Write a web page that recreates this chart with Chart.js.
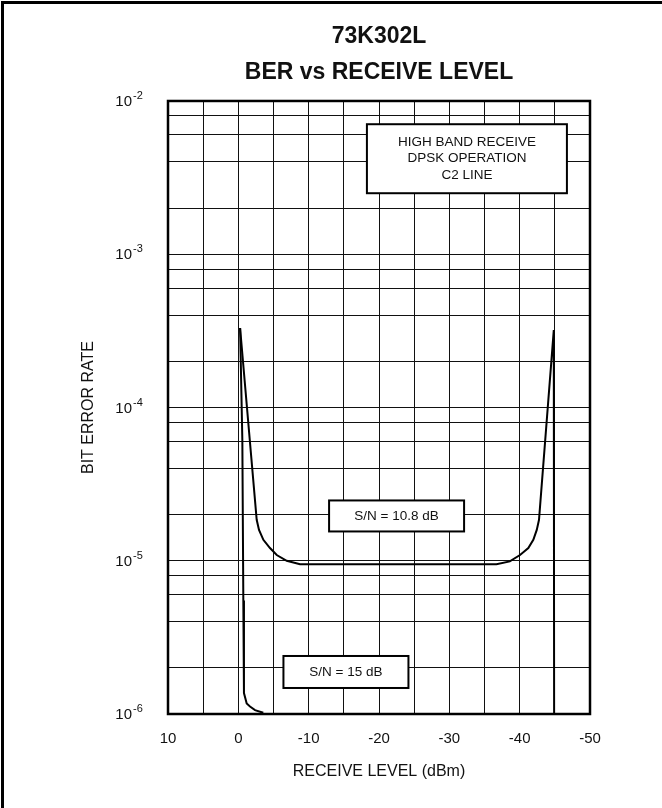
<!DOCTYPE html>
<html>
<head>
<meta charset="utf-8">
<script src="https://cdn.jsdelivr.net/npm/chart.js@4.4.1/dist/chart.umd.min.js"></script>
<style>
  html, body { margin: 0; padding: 0; background: #fff; }
  #wrap { position: relative; width: 662px; height: 808px; }
  #marco { position: absolute; left: 1px; top: 1px; right: -10px; bottom: -10px; border-left: 3px solid #000; border-top: 3px solid #000; pointer-events: none; }
</style>
</head>
<body>
<div id="wrap">
  <canvas id="grafico" width="662" height="808"></canvas>
  <div id="marco"></div>
</div>
<script>
// Curva S/N = 10.8 dB (nivel en dBm, BER)
const nivelSN108 = [-0.25, -2.61, -2.94, -3.56, -4.5, -5.46, -6.88, -8.77, -36.7, -38.6, -40.05, -41.23, -41.94, -42.43, -42.75, -44.85, -44.9];
const berSN108   = [3.3e-4, 1.85e-5, 1.59e-5, 1.37e-5, 1.21e-5, 1.09e-5, 1.0e-5, 9.5e-6, 9.5e-6, 9.9e-6, 1.09e-5, 1.21e-5, 1.37e-5, 1.59e-5, 1.85e-5, 3.2e-4, 1e-6];

// Curva S/N = 15 dB
const nivelSN15 = [-0.25, -0.57, -0.71, -0.8, -1.19, -1.66, -2.37, -3.55];
const berSN15   = [3.3e-4, 6.1e-5, 5.5e-6, 1.37e-6, 1.17e-6, 1.12e-6, 1.06e-6, 1.02e-6];

// Ejes
const marcasX = [10, 5, 0, -5, -10, -15, -20, -25, -30, -35, -40, -45, -50];
const etiquetasX = [10, 0, -10, -20, -30, -40, -50];
const marcasY = [1e-6, 2e-6, 4e-6, 6e-6, 8e-6, 1e-5, 2e-5, 4e-5, 6e-5, 8e-5, 1e-4, 2e-4, 4e-4, 6e-4, 8e-4, 1e-3, 2e-3, 4e-3, 6e-3, 8e-3, 1e-2];
const decadasY = [1e-2, 1e-3, 1e-4, 1e-5, 1e-6];
const exponentesY = ['-2', '-3', '-4', '-5', '-6'];

// Cuadros de texto (ancla en unidades de datos)
const notasTexto = [['HIGH BAND RECEIVE', 'DPSK OPERATION', 'C2 LINE'], ['S/N = 10.8 dB'], ['S/N = 15 dB']];
const notasNivel = [-32.5, -22.5, -15.3];
const notasBer = [4.2e-3, 1.96e-5, 1.88e-6];

const FUENTE = '"Liberation Sans", Arial, Helvetica, sans-serif';
const tamNotas = [[200, 69], [135, 31], [125, 32]];

const pares = (xs, ys) => xs.map((x, i) => ({ x: x, y: ys[i] }));

const pluginExtras = {
  id: 'extras',
  afterDraw(chart) {
    const { ctx, chartArea: a, scales: { x, y } } = chart;
    ctx.save();
    // borde grueso del área
    ctx.strokeStyle = '#000';
    ctx.lineWidth = 2.5;
    ctx.strokeRect(a.left, a.top, a.right - a.left, a.bottom - a.top);

    // etiquetas del eje Y con exponente
    ctx.fillStyle = '#111';
    decadasY.forEach((v, i) => {
      const py = y.getPixelForValue(v);
      ctx.font = '15px ' + FUENTE;
      ctx.textAlign = 'right';
      ctx.textBaseline = 'middle';
      ctx.fillText('10', 132, py + 1);
      ctx.font = '11px ' + FUENTE;
      ctx.textAlign = 'left';
      ctx.fillText(exponentesY[i], 133, py - 5);
    });

    // cuadros de texto
    notasTexto.forEach((lineas, i) => {
      const cx = x.getPixelForValue(notasNivel[i]);
      const cy = y.getPixelForValue(notasBer[i]);
      const [w, h] = tamNotas[i];
      ctx.fillStyle = '#fff';
      ctx.fillRect(cx - w / 2, cy - h / 2, w, h);
      ctx.lineWidth = 2;
      ctx.strokeStyle = '#000';
      ctx.strokeRect(cx - w / 2, cy - h / 2, w, h);
      ctx.fillStyle = '#111';
      ctx.font = '13.5px ' + FUENTE;
      ctx.textAlign = 'center';
      ctx.textBaseline = 'middle';
      const paso = 16.5;
      lineas.forEach((t, k) => {
        ctx.fillText(t, cx, cy + (k - (lineas.length - 1) / 2) * paso);
      });
    });
    ctx.restore();
  }
};

new Chart(document.getElementById('grafico'), {
  type: 'line',
  data: {
    datasets: [
      {
        label: 'S/N = 10.8 dB',
        data: pares(nivelSN108, berSN108),
        borderColor: '#000',
        borderWidth: 2,
        pointRadius: 0,
        tension: 0,
        fill: false
      },
      {
        label: 'S/N = 15 dB',
        data: pares(nivelSN15, berSN15),
        borderColor: '#000',
        borderWidth: 2,
        pointRadius: 0,
        tension: 0,
        fill: false
      }
    ]
  },
  options: {
    responsive: false,
    animation: false,
    devicePixelRatio: 1,
    layout: { padding: { left: 0, right: 72, top: 0, bottom: 0 } },
    plugins: {
      legend: { display: false },
      tooltip: { enabled: false },
      title: {
        display: true,
        fullSize: false,
        text: ['73K302L', 'BER vs RECEIVE LEVEL'],
        color: '#111',
        font: { family: FUENTE, size: 23, weight: 'bold', lineHeight: 1.53 },
        padding: { top: 19.4, bottom: 11.2 }
      }
    },
    scales: {
      x: {
        type: 'linear',
        min: -50,
        max: 10,
        reverse: true,
        afterBuildTicks: (s) => { s.ticks = marcasX.map(v => ({ value: v })); },
        afterFit: (s) => { s.height = 94; },
        grid: { color: '#111', lineWidth: 1, drawTicks: false },
        border: { display: false },
        ticks: {
          autoSkip: false,
          maxRotation: 0,
          padding: 16,
          color: '#111',
          font: { family: FUENTE, size: 15 },
          callback: (v) => etiquetasX.includes(v) ? String(v) : ''
        },
        title: {
          display: true,
          text: 'RECEIVE LEVEL (dBm)',
          color: '#111',
          font: { family: FUENTE, size: 16, lineHeight: 1.2 },
          padding: { top: 0, bottom: 27 }
        }
      },
      y: {
        type: 'logarithmic',
        min: 1e-6,
        max: 1e-2,
        afterBuildTicks: (s) => { s.ticks = marcasY.map(v => ({ value: v })); },
        afterFit: (s) => { s.width = 168; },
        grid: { color: '#111', lineWidth: 1, drawTicks: false },
        border: { display: false },
        ticks: { display: false },
        title: {
          display: true,
          text: 'BIT ERROR RATE',
          color: '#111',
          font: { family: FUENTE, size: 16, lineHeight: 1.2 },
          padding: { top: 79, bottom: 0 }
        }
      }
    }
  },
  plugins: [pluginExtras]
});
</script>
</body>
</html>
